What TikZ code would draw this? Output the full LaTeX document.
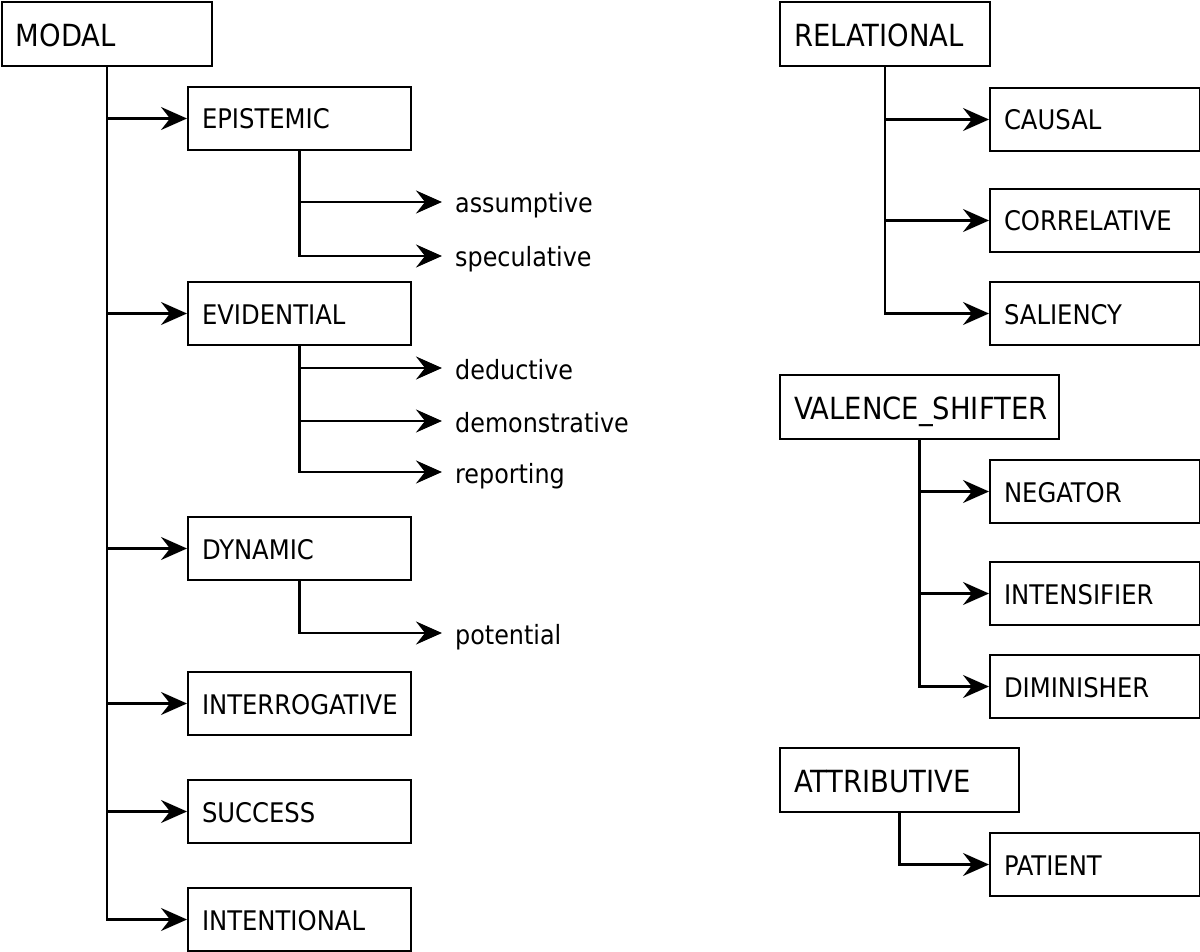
\documentclass[tikz,border=0pt]{standalone}
\usepackage{fontspec}
\setmainfont{DejaVu Sans Condensed}
\usetikzlibrary{arrows.meta}
\tikzset{%
    base/.style = {
        rectangle,
        draw,
        line width=2pt,
        anchor=north west,
        align=left,
        inner xsep=14pt,
        inner ysep=0pt,
    },
    category/.style = {
        base,
        minimum height=64pt,
        text height=28pt,
        text depth=3pt,
        font=\fontsize{30.5}{35}\selectfont,
    },
    subclass/.style = {
        base,
        minimum height=63pt,
        text height=24pt,
        text depth=3pt,
        font=\fontsize{27}{31}\selectfont,
    },
    leaf/.style = {
        anchor=west,
        inner xsep=13pt,
        text height=24pt,
        text depth=2pt,
        font=\fontsize{26.5}{30}\selectfont,
    },
    link/.style = {
        line width=2.2pt,
        -{Stealth[length=26pt,width=23pt,inset=9pt]},
    },
}

\begin{document}
\begin{tikzpicture}[x=1pt,y=-1pt]
    \useasboundingbox (0,0) rectangle (1200,952);
    % modal tree
    \node [category, text width=182pt] (modal) at (1,1) {MODAL};
    \node [subclass, text width=195pt] (epistemic) at (187,86) {EPISTEMIC};
    \node [subclass, text width=195pt] (evidential) at (187,281) {EVIDENTIAL};
    \node [subclass, text width=195pt] (dynamic) at (187,516) {DYNAMIC};
    \node [subclass, text width=195pt] (interrogative) at (187,671) {INTERROGATIVE};
    \node [subclass, text width=195pt] (success) at (187,779) {SUCCESS};
    \node [subclass, text width=195pt] (intentional) at (187,887) {INTENTIONAL};
    \node [leaf] (assumptive) at (442,202) {assumptive};
    \node [leaf] (speculative) at (442,256) {speculative};
    \node [leaf] (deductive) at (442,368) {deductive};
    \node [leaf] (demonstrative) at (442,421) {demonstrative};
    \node [leaf] (reporting) at (442,472) {reporting};
    \node [leaf] (potential) at (442,633) {potential};

    \draw [link] (modal.south) |- (epistemic.west);
    \draw [link] (modal.south) |- (evidential.west);
    \draw [link] (modal.south) |- (dynamic.west);
    \draw [link] (modal.south) |- (interrogative.west);
    \draw [link] (modal.south) |- (success.west);
    \draw [link] (modal.south) |- (intentional.west);
    \draw [link] (epistemic.south) |- (assumptive.west);
    \draw [link] (epistemic.south) |- (speculative.west);
    \draw [link] (evidential.south) |- (deductive.west);
    \draw [link] (evidential.south) |- (demonstrative.west);
    \draw [link] (evidential.south) |- (reporting.west);
    \draw [link] (dynamic.south) |- (potential.west);

    % relational tree
    \node [category, text width=182pt] (relational) at (779,1) {RELATIONAL};
    \node [subclass, text width=182pt] (causal) at (989,87) {CAUSAL};
    \node [subclass, text width=182pt] (correlative) at (989,188) {CORRELATIVE};
    \node [subclass, text width=182pt] (saliency) at (989,281) {SALIENCY};
    \draw [link] (relational.south) |- (causal.west);
    \draw [link] (relational.south) |- (correlative.west);
    \draw [link] (relational.south) |- (saliency.west);

    % valence shifter tree
    \node [category, text width=251pt] (valence) at (779,374) {VALENCE\_SHIFTER};
    \node [subclass, text width=182pt] (negator) at (989,459) {NEGATOR};
    \node [subclass, text width=182pt] (intensifier) at (989,561) {INTENSIFIER};
    \node [subclass, text width=182pt] (diminisher) at (989,654) {DIMINISHER};
    \draw [link] (valence.south) |- (negator.west);
    \draw [link] (valence.south) |- (intensifier.west);
    \draw [link] (valence.south) |- (diminisher.west);

    % attributive tree
    \node [category, text width=211pt] (attributive) at (779,747) {ATTRIBUTIVE};
    \node [subclass, text width=182pt] (patient) at (989,832) {PATIENT};
    \draw [link] (attributive.south) |- (patient.west);
\end{tikzpicture}
\end{document}
